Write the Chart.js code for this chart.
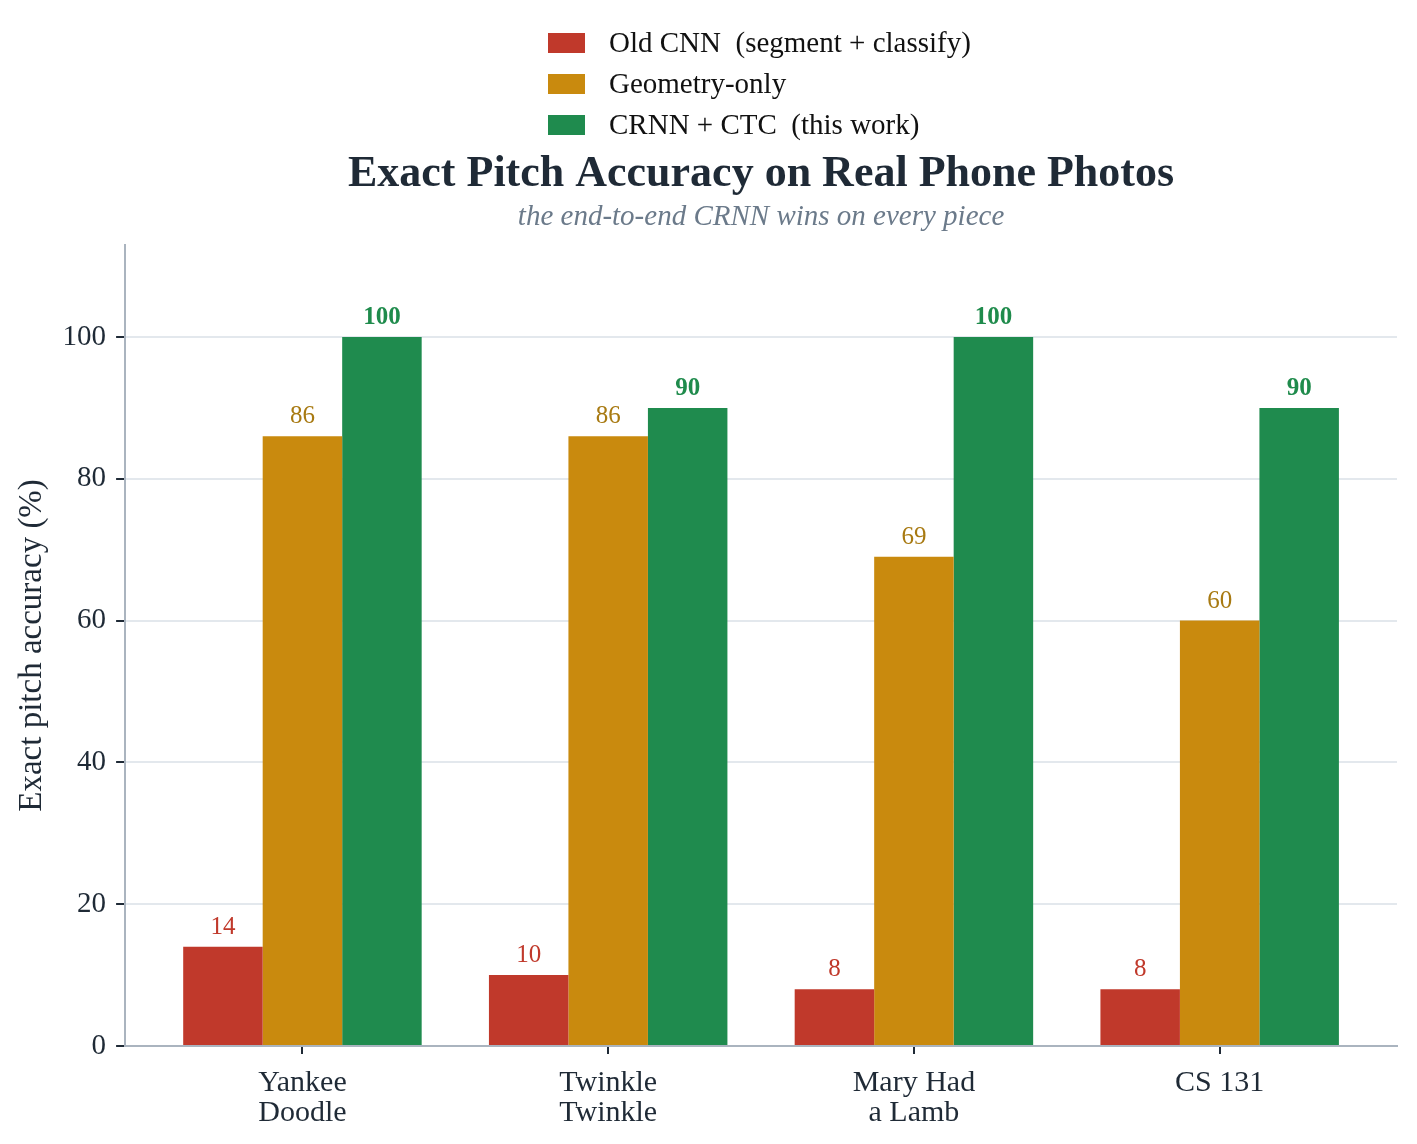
<!DOCTYPE html>
<html>
<head>
<meta charset="utf-8">
<script src="https://cdn.jsdelivr.net/npm/chart.js@4.4.1/dist/chart.umd.min.js"></script>
<style>
  html, body { margin: 0; padding: 0; background: #fff; }
  #wrap { width: 1417px; height: 1144px; }
</style>
</head>
<body>
<div id="wrap"><canvas id="myChart"></canvas></div>
<script>
const pieces = [['Yankee', 'Doodle'], ['Twinkle', 'Twinkle'], ['Mary Had', 'a Lamb'], 'CS 131'];
const seriesNames = ['Old CNN  (segment + classify)', 'Geometry-only', 'CRNN + CTC  (this work)'];
const oldCnn = [14, 10, 8, 8];
const geometryOnly = [86, 86, 69, 60];
const crnnCtc = [100, 90, 100, 90];
const yTicks = [0, 20, 40, 60, 80, 100];

const barColors = ['#c0392b', '#c98a0e', '#1f8b4e'];
const labelColors = ['#c0392b', '#a87a12', '#1f8b4c'];
const serif = "'Liberation Serif', 'DejaVu Serif', serif";
const ink = '#1f2a36';

// legend stacked in one column above the title
const stackedLegend = {
  id: 'stackedLegend',
  afterDraw(chart) {
    const ctx = chart.ctx;
    const area = chart.chartArea;
    ctx.save();
    ctx.font = '29px ' + serif;
    const widths = chart.data.datasets.map(ds => ctx.measureText(ds.label).width);
    const blockW = 61 + Math.max(...widths);
    const x0 = Math.round((area.left + area.right) / 2 - blockW / 2) - 2;
    chart.data.datasets.forEach((ds, i) => {
      const y = 43 + i * 41;
      ctx.fillStyle = ds.backgroundColor;
      ctx.fillRect(x0, y - 10, 37, 20);
      ctx.fillStyle = '#111111';
      ctx.textBaseline = 'middle';
      ctx.textAlign = 'left';
      ctx.fillText(ds.label, x0 + 61, y + 1);
    });
    ctx.restore();
  }
};

// value labels on top of each bar
const barValues = {
  id: 'barValues',
  afterDatasetsDraw(chart) {
    const ctx = chart.ctx;
    ctx.save();
    ctx.textAlign = 'center';
    ctx.textBaseline = 'alphabetic';
    chart.data.datasets.forEach((ds, i) => {
      const meta = chart.getDatasetMeta(i);
      ctx.fillStyle = labelColors[i];
      ctx.font = (i === 2 ? 'bold ' : '') + '25px ' + serif;
      meta.data.forEach((bar, j) => {
        ctx.fillText(ds.data[j], bar.x, bar.y - 13);
      });
    });
    ctx.restore();
  }
};

var chartArea = document.getElementById('myChart').getContext('2d');
var myChart = new Chart(chartArea, {
  type: 'bar',
  data: {
    labels: pieces,
    datasets: [
      { label: seriesNames[0], data: oldCnn, backgroundColor: barColors[0] },
      { label: seriesNames[1], data: geometryOnly, backgroundColor: barColors[1] },
      { label: seriesNames[2], data: crnnCtc, backgroundColor: barColors[2] }
    ]
  },
  options: {
    responsive: true,
    maintainAspectRatio: false,
    animation: false,
    datasets: {
      bar: { categoryPercentage: 0.78, barPercentage: 1.0 }
    },
    layout: { padding: { top: 149, right: 20, left: 13, bottom: 2 } },
    scales: {
      x: {
        // a little more room at both ends than the default half category
        afterBuildTicks(axis) {
          axis._startValue = -0.58;
          axis._valueRange = axis.ticks.length + 0.16;
        },
        grid: { offset: false, drawOnChartArea: false, drawTicks: true, tickColor: ink, tickLength: 8, lineWidth: 2 },
        border: { color: '#aab4bf', width: 2 },
        ticks: { color: ink, font: { family: serif, size: 30, lineHeight: 1.0 }, padding: 14 }
      },
      y: {
        min: 0,
        max: 113,
        afterBuildTicks(axis) { axis.ticks = yTicks.map(v => ({ value: v })); },
        grid: { color: '#e3e8ed', lineWidth: 2, tickColor: ink, tickLength: 9 },
        border: { color: '#aab4bf', width: 2 },
        ticks: { color: ink, font: { family: serif, size: 29 }, padding: 10 },
        title: {
          display: true,
          text: 'Exact pitch accuracy (%)',
          color: ink,
          font: { family: serif, size: 33 },
          padding: { top: 0, bottom: 0 }
        }
      }
    },
    plugins: {
      legend: { display: false },
      title: {
        display: true,
        fullSize: false,
        text: 'Exact Pitch Accuracy on Real Phone Photos',
        color: ink,
        font: { family: serif, size: 44, weight: 'bold', lineHeight: 1.16 },
        padding: { top: 0, bottom: 0 }
      },
      subtitle: {
        display: true,
        fullSize: false,
        text: 'the end-to-end CRNN wins on every piece',
        color: '#6b7a8a',
        font: { family: serif, size: 29, style: 'italic' },
        padding: { top: 0, bottom: 10 }
      },
      tooltip: { enabled: false }
    }
  },
  plugins: [stackedLegend, barValues]
});
</script>
</body>
</html>
